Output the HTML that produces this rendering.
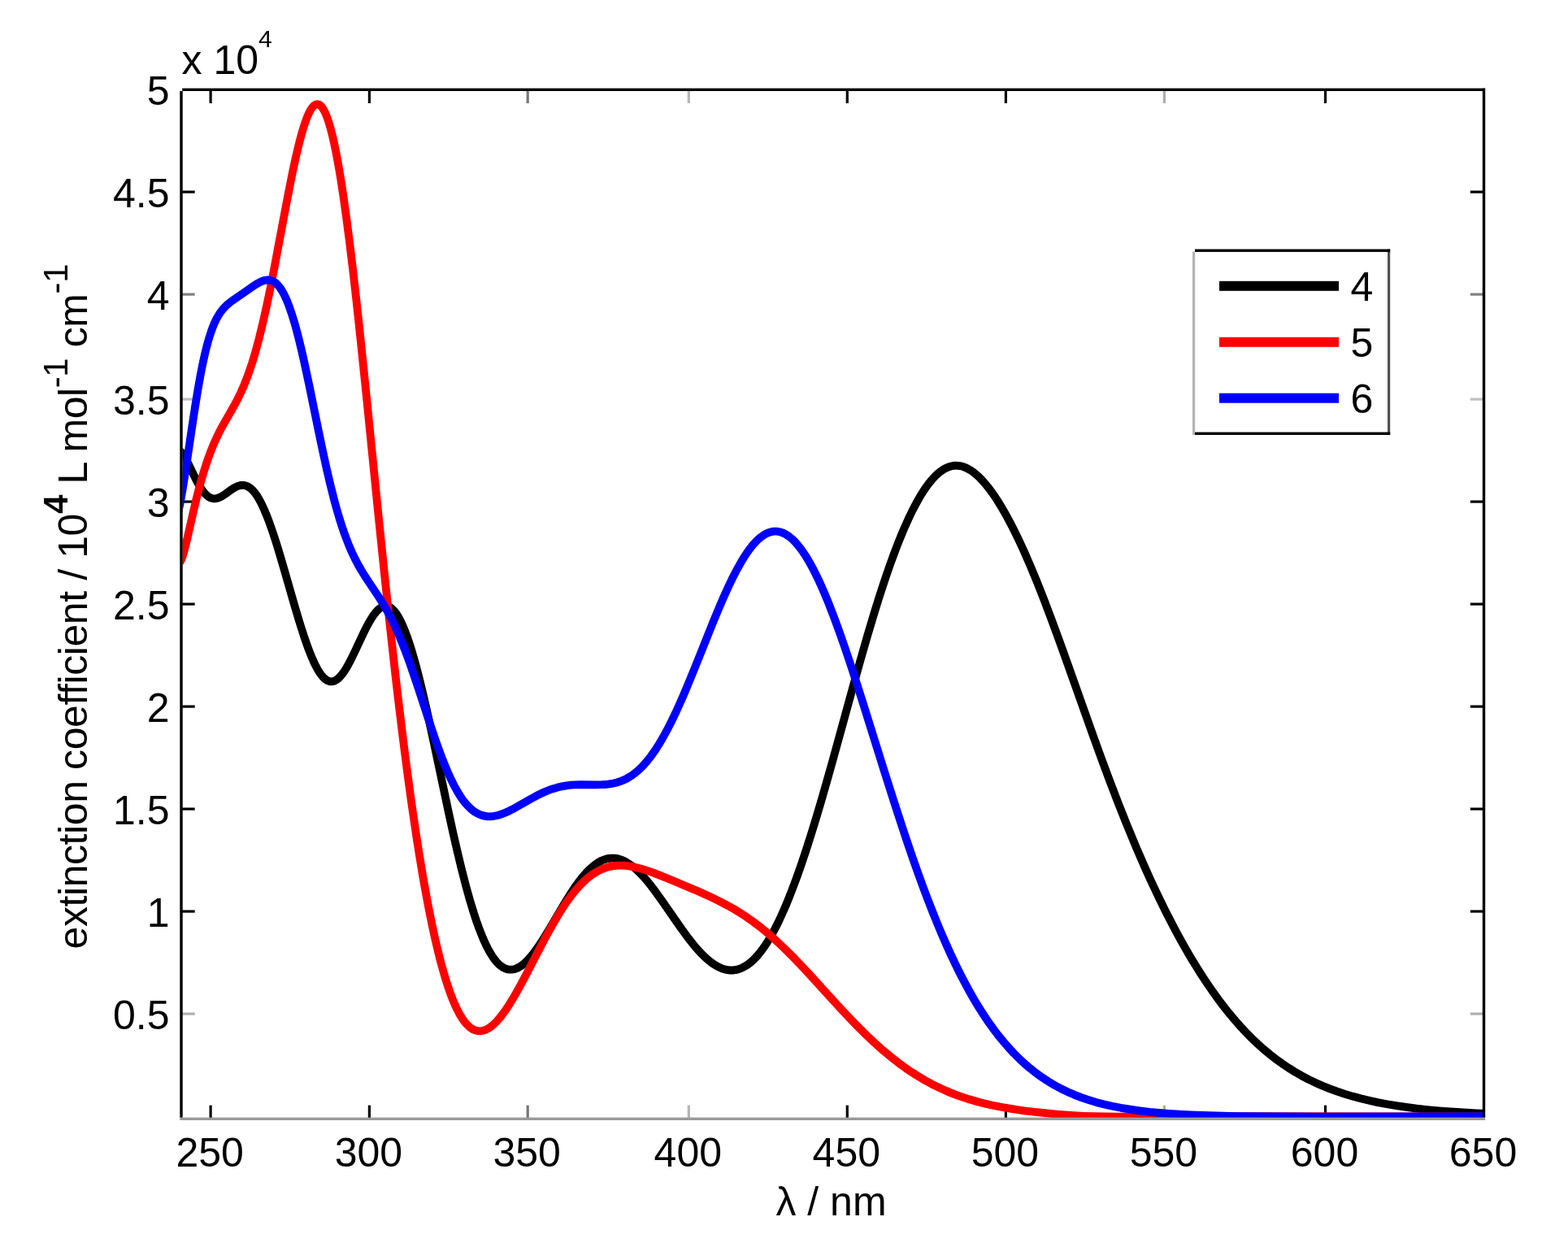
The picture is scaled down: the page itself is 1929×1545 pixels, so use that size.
<!DOCTYPE html>
<html><head><meta charset="utf-8"><title>UV-vis spectra</title>
<style>
html,body{margin:0;padding:0;background:#fff;}
body{width:1929px;height:1545px;overflow:hidden;}
svg{display:block;}
text{font-family:"Liberation Sans",Arial,Helvetica,sans-serif;fill:#000;}
</style></head><body>
<svg xmlns="http://www.w3.org/2000/svg" width="1929" height="1545" viewBox="0 0 1929 1545">
<rect x="0" y="0" width="1929" height="1545" fill="#fff"/>
<defs><clipPath id="plotclip"><rect x="224.5" y="112.0" width="1599.5" height="1263.0"/></clipPath></defs>

<g>
<rect x="257.5" y="111.5" width="3.2" height="15.5" fill="#000"/>
<rect x="257.5" y="1359.6" width="3.2" height="15.5" fill="#000"/>
<rect x="452.8" y="111.5" width="3.2" height="15.5" fill="#000"/>
<rect x="452.8" y="1359.6" width="3.2" height="15.5" fill="#000"/>
<rect x="647.6" y="111.5" width="3.2" height="15.5" fill="#777"/>
<rect x="647.6" y="1359.6" width="3.2" height="15.5" fill="#777"/>
<rect x="845.7" y="111.5" width="3.2" height="15.5" fill="#b4b4b4"/>
<rect x="845.7" y="1359.6" width="3.2" height="15.5" fill="#b4b4b4"/>
<rect x="1040.7" y="111.5" width="3.2" height="15.5" fill="#000"/>
<rect x="1040.7" y="1359.6" width="3.2" height="15.5" fill="#000"/>
<rect x="1235.8" y="111.5" width="3.2" height="15.5" fill="#000"/>
<rect x="1235.8" y="1359.6" width="3.2" height="15.5" fill="#000"/>
<rect x="1430.8" y="111.5" width="3.2" height="15.5" fill="#adadad"/>
<rect x="1430.8" y="1359.6" width="3.2" height="15.5" fill="#adadad"/>
<rect x="1628.9" y="111.5" width="3.2" height="15.5" fill="#000"/>
<rect x="1628.9" y="1359.6" width="3.2" height="15.5" fill="#000"/>
<rect x="224.2" y="234.5" width="15.5" height="3.2" fill="#000"/>
<rect x="1808.8" y="234.5" width="15.5" height="3.2" fill="#000"/>
<rect x="224.2" y="360.5" width="15.5" height="3.2" fill="#808080"/>
<rect x="1808.8" y="360.5" width="15.5" height="3.2" fill="#808080"/>
<rect x="224.2" y="489.5" width="15.5" height="3.2" fill="#c0c0c0"/>
<rect x="1808.8" y="489.5" width="15.5" height="3.2" fill="#c0c0c0"/>
<rect x="224.2" y="615.5" width="15.5" height="3.2" fill="#000"/>
<rect x="1808.8" y="615.5" width="15.5" height="3.2" fill="#000"/>
<rect x="224.2" y="741.5" width="15.5" height="3.2" fill="#000"/>
<rect x="1808.8" y="741.5" width="15.5" height="3.2" fill="#000"/>
<rect x="224.2" y="867.5" width="15.5" height="3.2" fill="#000"/>
<rect x="1808.8" y="867.5" width="15.5" height="3.2" fill="#000"/>
<rect x="224.2" y="993.5" width="15.5" height="3.2" fill="#000"/>
<rect x="1808.8" y="993.5" width="15.5" height="3.2" fill="#000"/>
<rect x="224.2" y="1119.5" width="15.5" height="3.2" fill="#000"/>
<rect x="1808.8" y="1119.5" width="15.5" height="3.2" fill="#000"/>
<rect x="224.2" y="1245.5" width="15.5" height="3.2" fill="#b0b0b0"/>
<rect x="1808.8" y="1245.5" width="15.5" height="3.2" fill="#b0b0b0"/>
</g>
<g clip-path="url(#plotclip)">
<path fill="none" stroke="#000000" stroke-width="9.8" stroke-linejoin="round" stroke-linecap="butt" d="M216.0,553.2L217.0,553.0L218.0,553.0L219.0,553.3L220.5,554.0L221.5,554.8L222.5,555.8L223.5,556.9L225.0,558.8L227.5,562.7L230.0,567.3L232.5,572.2L241.0,589.7L243.5,594.4L246.0,598.7L249.0,603.2L250.5,605.2L252.0,607.0L253.5,608.5L255.0,609.9L256.0,610.6L257.5,611.6L258.5,612.1L260.0,612.7L261.5,613.1L263.0,613.3L264.5,613.3L266.0,613.1L267.5,612.8L269.0,612.3L271.5,611.2L274.5,609.5L277.5,607.5L285.0,602.1L287.5,600.5L289.5,599.4L292.0,598.2L294.0,597.5L296.0,597.0L298.0,596.8L300.5,596.9L302.5,597.4L305.0,598.5L307.0,599.7L309.5,601.8L311.5,603.8L313.5,606.2L316.0,609.7L318.0,612.9L320.5,617.4L323.0,622.4L325.5,628.0L328.0,634.0L330.5,640.4L333.0,647.3L335.5,654.5L340.0,668.3L345.0,684.7L350.0,701.8L362.0,743.6L368.0,763.8L371.0,773.4L374.0,782.7L377.0,791.4L379.5,798.3L382.5,806.0L385.0,811.9L388.0,818.3L390.5,823.0L393.0,827.1L395.5,830.6L398.0,833.5L400.5,835.7L402.0,836.7L403.0,837.3L404.0,837.7L405.5,838.2L406.5,838.3L408.0,838.4L409.5,838.2L411.0,837.8L412.0,837.3L413.5,836.5L416.0,834.7L418.5,832.2L420.0,830.5L421.5,828.6L423.5,825.8L426.0,821.8L428.5,817.5L431.0,812.8L436.0,802.6L447.5,778.2L450.5,772.1L453.5,766.5L456.5,761.4L459.5,756.8L462.5,752.9L464.0,751.3L465.5,749.8L467.0,748.5L468.5,747.5L470.0,746.7L471.5,746.1L473.0,745.7L474.5,745.6L476.0,745.7L477.0,745.9L478.5,746.4L480.0,747.2L481.5,748.2L482.5,749.1L484.0,750.5L485.5,752.2L487.0,754.1L488.5,756.3L490.0,758.7L491.5,761.4L494.5,767.4L497.5,774.4L501.0,783.7L504.0,792.5L507.5,803.9L511.0,816.2L514.5,829.4L517.5,841.4L520.5,853.9L527.5,884.7L534.0,914.8L551.5,997.6L557.0,1022.7L562.0,1044.7L567.5,1067.6L573.0,1089.1L578.0,1107.1L583.0,1123.5L586.0,1132.6L589.0,1141.0L592.0,1148.8L594.5,1154.9L597.5,1161.5L600.0,1166.5L602.5,1171.1L605.5,1176.0L608.0,1179.6L611.0,1183.3L613.5,1185.9L616.5,1188.4L619.0,1190.1L620.5,1190.9L622.0,1191.6L623.5,1192.1L625.0,1192.4L626.5,1192.6L628.0,1192.7L629.5,1192.7L631.0,1192.5L632.5,1192.2L634.5,1191.6L636.0,1191.0L638.0,1190.0L639.5,1189.1L641.5,1187.8L645.0,1185.0L648.5,1181.7L652.0,1177.9L656.0,1173.0L659.0,1169.0L662.5,1164.0L666.0,1158.8L669.5,1153.3L676.5,1141.7L693.5,1112.9L698.5,1104.8L703.0,1097.7L707.5,1091.0L712.0,1084.8L716.5,1079.0L720.5,1074.4L724.5,1070.2L728.5,1066.5L732.5,1063.3L736.5,1060.6L738.5,1059.5L740.5,1058.5L742.5,1057.7L744.5,1057.0L748.0,1056.1L750.0,1055.8L752.0,1055.6L754.0,1055.6L756.0,1055.7L758.0,1055.9L760.5,1056.4L762.5,1057.0L765.0,1057.9L767.0,1058.7L769.5,1059.9L771.5,1061.1L774.0,1062.6L778.5,1065.9L783.0,1069.8L788.0,1074.6L792.0,1078.9L796.5,1084.2L801.0,1089.7L806.0,1096.3L815.0,1108.8L832.0,1133.4L839.0,1143.4L846.0,1152.9L852.0,1160.6L855.5,1164.8L859.0,1168.9L862.5,1172.6L865.5,1175.7L868.5,1178.5L871.5,1181.1L874.5,1183.5L877.5,1185.7L881.0,1187.9L884.5,1189.8L888.0,1191.3L891.5,1192.4L895.0,1193.2L898.0,1193.5L901.5,1193.5L904.5,1193.2L908.0,1192.4L911.0,1191.4L914.5,1189.8L917.5,1188.1L921.0,1185.7L924.0,1183.3L927.5,1180.1L930.5,1177.0L933.5,1173.5L937.0,1169.1L940.0,1164.9L943.5,1159.7L946.5,1154.8L950.0,1148.7L953.5,1142.2L957.0,1135.3L960.0,1129.0L963.5,1121.3L967.0,1113.2L970.5,1104.7L974.0,1095.8L977.5,1086.6L981.0,1077.0L985.0,1065.7L991.0,1047.9L997.5,1027.6L1004.5,1004.8L1011.5,981.1L1018.0,958.4L1025.0,933.5L1049.0,846.2L1058.0,814.0L1067.5,780.9L1076.0,752.5L1081.0,736.4L1085.5,722.4L1090.5,707.5L1095.0,694.5L1099.5,682.2L1104.0,670.3L1108.5,659.1L1112.5,649.6L1117.5,638.4L1122.5,628.0L1127.5,618.5L1132.5,609.7L1137.5,601.9L1140.0,598.3L1142.5,594.9L1145.0,591.8L1147.5,588.8L1150.0,586.2L1152.0,584.2L1154.5,582.0L1157.0,580.0L1159.5,578.2L1161.5,577.0L1163.5,575.9L1166.0,574.8L1168.5,573.9L1171.0,573.3L1173.0,572.9L1175.5,572.7L1178.0,572.8L1180.5,573.1L1182.5,573.4L1185.0,574.1L1187.5,575.1L1190.0,576.2L1193.5,578.2L1197.0,580.5L1200.5,583.3L1204.5,586.9L1208.0,590.5L1212.0,595.0L1215.5,599.3L1219.5,604.6L1223.5,610.3L1227.5,616.4L1231.5,622.9L1235.5,629.7L1239.5,636.9L1243.5,644.4L1247.5,652.2L1252.0,661.4L1259.5,677.5L1267.5,695.9L1276.0,716.4L1284.5,738.0L1293.0,760.5L1302.5,786.3L1313.0,815.5L1344.5,904.2L1355.0,933.1L1365.0,960.0L1376.0,988.7L1387.0,1016.3L1398.0,1042.8L1408.5,1067.0L1415.0,1081.4L1421.0,1094.3L1427.5,1107.9L1434.0,1121.1L1440.0,1132.8L1446.5,1145.2L1453.0,1157.1L1459.5,1168.6L1466.0,1179.7L1472.5,1190.3L1479.0,1200.6L1485.5,1210.4L1492.0,1219.8L1498.5,1228.8L1505.0,1237.5L1511.5,1245.7L1518.5,1254.1L1525.5,1262.1L1532.5,1269.6L1540.0,1277.2L1547.0,1283.9L1554.5,1290.6L1562.0,1296.8L1569.5,1302.7L1577.0,1308.1L1585.0,1313.5L1593.0,1318.5L1601.0,1323.1L1609.5,1327.6L1618.0,1331.7L1626.5,1335.5L1635.5,1339.1L1644.5,1342.4L1654.0,1345.6L1664.0,1348.6L1674.0,1351.3L1684.5,1353.8L1695.0,1356.1L1706.5,1358.2L1718.0,1360.2L1730.0,1361.9L1743.0,1363.6L1756.0,1365.0L1770.0,1366.3L1784.5,1367.4L1800.0,1368.5L1816.5,1369.4L1834.0,1370.1"/>
<path fill="none" stroke="#ff0000" stroke-width="9.8" stroke-linejoin="round" stroke-linecap="butt" d="M216.0,682.2L216.5,684.6L217.5,688.4L218.0,689.7L218.5,690.7L219.0,691.4L219.5,691.9L220.0,692.1L220.5,692.0L221.0,691.7L221.5,691.2L222.5,689.7L223.5,687.5L224.5,684.8L226.0,679.9L228.5,670.3L231.0,659.7L239.0,624.5L242.0,612.0L245.0,600.3L247.5,591.1L250.5,580.9L253.5,571.4L256.5,562.6L259.5,554.6L262.5,547.2L265.5,540.4L269.0,533.1L272.0,527.3L275.0,521.8L285.5,503.5L289.0,497.2L293.0,489.6L296.5,482.3L300.0,474.4L303.5,465.7L307.0,456.0L310.0,447.0L312.5,438.9L314.5,432.0L319.0,415.2L323.5,396.7L328.0,376.5L332.5,354.9L337.0,332.0L352.0,252.2L357.5,223.9L360.5,209.2L363.5,195.3L366.5,182.3L369.0,172.3L372.0,161.4L375.0,151.8L376.5,147.6L378.0,143.7L379.5,140.2L381.0,137.2L382.5,134.6L384.0,132.4L385.5,130.6L387.0,129.4L388.5,128.5L390.0,128.2L391.5,128.4L392.5,128.7L393.5,129.3L394.5,130.1L395.5,131.2L396.5,132.4L398.5,135.6L400.5,139.7L402.5,144.7L404.5,150.6L406.5,157.4L409.0,167.1L411.0,175.8L413.0,185.4L415.0,195.8L417.5,210.0L419.5,222.2L422.0,238.4L426.5,270.5L430.0,297.6L434.0,330.7L438.0,365.8L442.0,402.4L450.0,479.2L466.0,638.2L473.0,706.4L480.0,772.3L487.0,835.1L491.0,869.3L494.5,898.2L498.5,930.0L502.0,956.6L506.0,985.8L509.5,1010.1L513.0,1033.4L516.5,1055.5L520.5,1079.4L524.0,1099.1L527.5,1117.7L531.5,1137.5L535.0,1153.7L539.0,1170.7L542.5,1184.5L546.5,1198.8L550.0,1210.2L554.0,1221.8L557.5,1230.9L559.5,1235.6L561.5,1239.9L565.0,1246.8L567.0,1250.2L569.0,1253.3L571.0,1256.2L573.0,1258.7L575.0,1260.8L577.0,1262.7L579.0,1264.4L581.5,1266.0L583.5,1266.9L586.0,1267.8L588.0,1268.2L590.5,1268.3L593.0,1268.0L595.5,1267.4L598.0,1266.5L600.5,1265.2L603.0,1263.5L605.5,1261.6L608.0,1259.4L611.0,1256.4L613.5,1253.6L616.5,1250.0L621.0,1243.9L625.5,1237.2L630.5,1229.1L636.0,1219.7L640.5,1211.5L646.0,1201.2L664.0,1166.5L671.5,1152.3L679.5,1137.8L686.5,1125.9L690.5,1119.5L694.0,1114.1L697.5,1109.0L701.0,1104.1L704.5,1099.5L708.0,1095.2L711.5,1091.2L715.0,1087.4L718.5,1084.0L721.5,1081.3L724.5,1078.8L728.0,1076.2L731.0,1074.2L734.5,1072.1L737.5,1070.5L741.0,1068.9L744.0,1067.8L747.5,1066.7L751.0,1065.8L754.5,1065.2L758.0,1064.8L762.0,1064.6L765.5,1064.6L769.5,1064.9L775.5,1065.6L782.0,1066.9L789.0,1068.7L796.5,1071.1L804.5,1073.9L814.0,1077.6L826.0,1082.5L842.5,1089.4L857.0,1095.6L868.0,1100.5L877.5,1104.9L886.5,1109.3L895.0,1113.8L903.0,1118.3L910.5,1122.9L918.0,1127.7L924.0,1131.9L929.5,1136.0L935.0,1140.2L941.0,1145.0L946.5,1149.7L952.5,1155.0L958.5,1160.5L964.5,1166.2L975.5,1177.1L987.5,1189.7L1000.0,1203.2L1034.0,1240.5L1044.5,1251.7L1054.0,1261.5L1065.0,1272.5L1075.5,1282.4L1086.0,1291.8L1096.0,1300.1L1102.5,1305.2L1108.5,1309.8L1114.5,1314.1L1120.5,1318.2L1126.5,1322.0L1132.5,1325.7L1138.5,1329.2L1145.0,1332.8L1151.0,1335.8L1157.5,1338.9L1164.0,1341.9L1170.5,1344.6L1177.0,1347.1L1183.5,1349.4L1190.5,1351.7L1197.5,1353.8L1204.5,1355.8L1211.5,1357.5L1219.0,1359.3L1226.5,1360.8L1234.5,1362.3L1242.5,1363.7L1251.0,1365.0L1260.0,1366.3L1270.0,1367.5L1281.0,1368.7L1292.0,1369.8L1303.0,1370.8L1313.5,1371.6L1324.0,1372.3L1334.0,1372.8L1344.5,1373.1L1359.5,1373.5L1376.5,1373.6L1431.5,1373.3L1460.5,1373.2L1834.0,1373.3"/>
<path fill="none" stroke="#0000ff" stroke-width="9.8" stroke-linejoin="round" stroke-linecap="butt" d="M216.0,643.4L218.0,635.9L220.0,627.1L222.0,617.0L224.5,602.8L228.5,577.6L236.5,523.5L240.0,500.5L243.5,479.0L247.0,459.5L249.0,449.4L251.0,440.0L252.5,433.5L254.5,425.5L256.0,419.9L258.0,413.2L260.0,407.2L262.0,401.8L264.0,397.0L266.5,391.9L268.5,388.3L271.0,384.4L273.5,381.1L276.5,377.7L279.5,374.8L283.0,371.9L287.0,369.0L299.0,360.8L311.5,352.1L316.0,349.1L319.5,347.2L322.0,346.1L324.0,345.3L326.0,344.8L328.0,344.5L330.0,344.4L331.5,344.6L333.5,345.0L335.0,345.6L337.0,346.6L338.5,347.6L340.5,349.3L342.0,350.9L344.0,353.3L345.5,355.4L347.5,358.7L349.0,361.4L351.0,365.4L352.5,368.8L355.5,376.3L359.0,386.4L362.5,397.8L365.0,406.9L368.0,418.5L371.0,431.0L374.5,446.4L380.5,474.5L392.0,530.7L396.5,552.2L401.5,575.2L406.0,594.6L411.0,614.5L413.5,623.7L416.0,632.5L418.5,640.7L421.0,648.5L423.5,655.8L426.5,663.9L429.5,671.5L433.0,679.5L436.5,686.9L440.5,694.5L444.5,701.5L448.5,708.0L453.0,714.9L465.5,733.6L469.5,739.9L473.5,746.6L478.0,754.6L482.0,762.3L486.0,770.5L490.0,779.4L494.0,789.0L498.0,799.1L502.0,809.8L506.0,821.0L513.5,843.1L530.5,895.1L535.0,908.4L539.0,919.7L543.0,930.5L547.0,940.7L551.0,950.2L554.5,957.9L558.5,966.0L562.0,972.4L565.5,978.2L569.0,983.4L572.5,987.9L576.0,991.8L579.5,995.2L581.5,996.8L583.5,998.3L586.5,1000.2L590.0,1001.9L593.5,1003.1L597.0,1003.9L600.5,1004.3L604.0,1004.3L608.0,1003.8L612.0,1003.0L615.0,1002.2L618.5,1000.9L622.0,999.5L626.0,997.7L630.0,995.7L634.0,993.5L653.0,982.7L662.0,977.9L667.0,975.5L671.5,973.5L676.0,971.7L680.5,970.2L686.0,968.6L691.5,967.3L697.0,966.4L702.5,965.7L708.0,965.3L713.5,965.2L733.0,965.4L740.5,965.2L744.5,965.0L748.0,964.7L751.5,964.2L755.0,963.5L759.0,962.5L763.0,961.2L767.0,959.6L771.0,957.7L775.0,955.3L778.5,953.0L782.5,949.9L786.0,946.9L788.5,944.5L791.0,942.0L796.0,936.3L801.0,929.9L806.0,922.9L811.0,915.0L816.0,906.5L821.0,897.4L826.5,886.5L831.0,877.2L835.5,867.3L840.5,856.0L845.5,844.2L855.0,821.0L877.5,764.8L884.0,749.1L889.5,736.3L895.5,722.9L901.5,710.4L907.0,699.8L912.5,690.1L916.0,684.4L919.0,679.9L922.0,675.7L925.0,671.8L928.0,668.3L931.0,665.1L934.0,662.4L937.0,660.0L940.0,657.9L943.0,656.3L946.0,655.0L949.0,654.2L952.0,653.7L955.0,653.7L957.5,653.9L960.5,654.6L962.0,655.1L964.0,655.9L967.5,657.8L971.0,660.1L974.5,663.1L978.0,666.5L981.5,670.4L985.0,674.9L988.5,679.8L992.0,685.2L996.0,692.0L999.5,698.3L1003.5,706.2L1007.0,713.4L1011.0,722.2L1015.0,731.5L1019.0,741.2L1025.5,757.9L1032.0,775.5L1039.0,795.5L1047.0,819.2L1053.5,839.2L1061.0,862.7L1088.5,950.6L1100.0,986.8L1112.0,1023.6L1118.0,1041.4L1123.5,1057.3L1129.5,1074.3L1135.5,1090.8L1141.5,1106.7L1147.5,1122.1L1153.5,1137.0L1159.0,1150.1L1165.0,1163.8L1170.5,1175.9L1176.0,1187.4L1181.5,1198.5L1187.0,1209.1L1193.0,1220.1L1198.5,1229.7L1204.5,1239.6L1210.5,1249.0L1216.5,1257.9L1222.5,1266.2L1228.5,1274.1L1234.5,1281.4L1241.0,1288.9L1247.5,1295.9L1254.0,1302.4L1260.5,1308.4L1267.0,1313.9L1274.0,1319.5L1281.5,1324.9L1289.0,1329.9L1297.0,1334.7L1305.0,1339.0L1313.0,1342.9L1321.5,1346.6L1330.5,1350.1L1339.5,1353.1L1348.5,1355.9L1358.5,1358.5L1368.5,1360.8L1379.0,1362.8L1390.5,1364.7L1402.0,1366.3L1414.5,1367.8L1426.0,1368.9L1438.0,1369.8L1451.0,1370.7L1465.0,1371.4L1480.0,1372.0L1496.0,1372.5L1513.5,1372.9L1532.5,1373.2L1573.0,1373.5L1626.0,1373.6L1834.0,1373.2"/>
</g>
<rect x="221.3" y="1374.6" width="1605.9" height="3.4" fill="#9a9a9a"/>
<rect x="221.3" y="112.0" width="3.4" height="1262.6" fill="#000"/>
<rect x="1823.8" y="108.6" width="3.4" height="1266.0" fill="#000"/>
<rect x="224.2" y="108.6" width="1602.5" height="3.4" fill="#000"/>
<text x="258.1" y="1434.7" font-size="50" text-anchor="middle">250</text>
<text x="453.4" y="1434.7" font-size="50" text-anchor="middle">300</text>
<text x="648.2" y="1434.7" font-size="50" text-anchor="middle">350</text>
<text x="846.3" y="1434.7" font-size="50" text-anchor="middle">400</text>
<text x="1041.3" y="1434.7" font-size="50" text-anchor="middle">450</text>
<text x="1236.4" y="1434.7" font-size="50" text-anchor="middle">500</text>
<text x="1431.4" y="1434.7" font-size="50" text-anchor="middle">550</text>
<text x="1629.5" y="1434.7" font-size="50" text-anchor="middle">600</text>
<text x="1824.5" y="1434.7" font-size="50" text-anchor="middle">650</text>
<text x="208.5" y="129.3" font-size="50" text-anchor="end">5</text>
<text x="208.5" y="255.3" font-size="50" text-anchor="end">4.5</text>
<text x="208.5" y="381.3" font-size="50" text-anchor="end">4</text>
<text x="208.5" y="510.3" font-size="50" text-anchor="end">3.5</text>
<text x="208.5" y="636.3" font-size="50" text-anchor="end">3</text>
<text x="208.5" y="762.3" font-size="50" text-anchor="end">2.5</text>
<text x="208.5" y="888.3" font-size="50" text-anchor="end">2</text>
<text x="208.5" y="1014.3" font-size="50" text-anchor="end">1.5</text>
<text x="208.5" y="1140.3" font-size="50" text-anchor="end">1</text>
<text x="208.5" y="1266.3" font-size="50" text-anchor="end">0.5</text>
<text x="223.5" y="90.8" font-size="50">x 10<tspan font-size="30" dy="-33.3">4</tspan></text>
<text x="1022.5" y="1494.6" font-size="50" text-anchor="middle">λ / nm</text>
<text transform="translate(107.3,746) rotate(-90)" font-size="50" text-anchor="middle" textLength="843" lengthAdjust="spacing">extinction coefficient / 10<tspan font-size="42" dy="-24" font-weight="bold">4</tspan><tspan dy="24"> L mol</tspan><tspan font-size="42" dy="-24">-1</tspan><tspan dy="24"> cm</tspan><tspan font-size="42" dy="-24">-1</tspan></text>
<rect x="1467.0" y="306.5" width="243.2" height="228.5" fill="#fff"/>
<rect x="1467.0" y="309.5" width="3.2" height="225.5" fill="#b4b4b4"/>
<rect x="1707.0" y="306.5" width="3.2" height="228.5" fill="#505050"/>
<rect x="1470.0" y="306.5" width="240.2" height="3.4" fill="#000"/>
<rect x="1470.0" y="531.6" width="240.2" height="3.4" fill="#000"/>
<rect x="1500" y="345.8" width="147" height="12" fill="#000"/>
<text x="1661.5" y="369.7" font-size="50">4</text>
<rect x="1500" y="414.8" width="147" height="12" fill="#ff0000"/>
<text x="1661.5" y="438.7" font-size="50">5</text>
<rect x="1500" y="483.7" width="147" height="12" fill="#0000ff"/>
<text x="1661.5" y="507.6" font-size="50">6</text>
</svg>
</body></html>
